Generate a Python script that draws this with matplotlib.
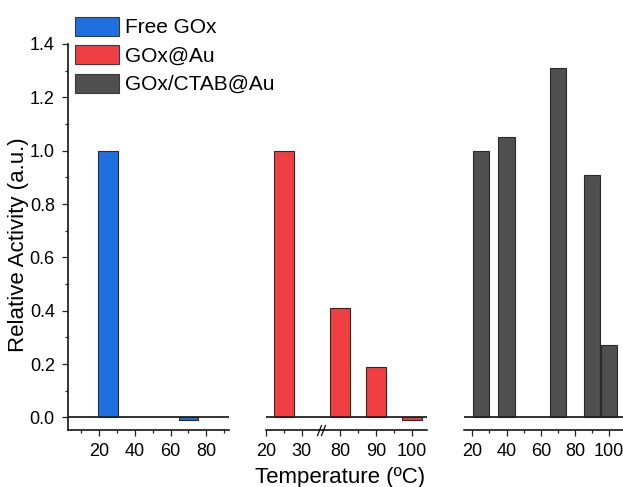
import numpy as np
import matplotlib
matplotlib.use('Agg')
import matplotlib.pyplot as plt
from matplotlib.patches import Patch
from matplotlib.ticker import FixedLocator, MultipleLocator
import matplotlib.transforms as mtransforms

# ---- data ----
free_temps = [25, 70]
free_vals = [1.0, -0.01]
au_temps = [25, 80, 90, 100]
au_vals = [1.0, 0.41, 0.19, -0.01]
ctab_temps = [25, 40, 70, 90, 100]
ctab_vals = [1.0, 1.05, 1.31, 0.91, 0.27]
series_labels = ['Free GOx', 'GOx@Au', 'GOx/CTAB@Au']
colors = ['#1f6fe0', '#ef3f42', '#4f4f4f']
y_ticks = [0.0, 0.2, 0.4, 0.6, 0.8, 1.0, 1.2, 1.4]
p1_ticks = [20, 40, 60, 80]
p1_minor = [10, 30, 50, 70, 90]
p2_ticks = [20, 30, 80, 90, 100]
p2_minor = [25, 85, 95]
p3_ticks = [20, 40, 60, 80, 100]
p3_minor = [30, 50, 70, 90]

plt.rcParams['font.family'] = ['Liberation Sans Narrow', 'Liberation Sans', 'DejaVu Sans']

W, H = 623, 487
fig = plt.figure(figsize=(W / 100, H / 100), dpi=100)

def rect(x0, x1, y0=44, y1=430):
    return [x0 / W, 1 - y1 / H, (x1 - x0) / W, (y1 - y0) / H]

ax1 = fig.add_axes(rect(67.7, 229))
ax2 = fig.add_axes(rect(266, 427))
ax3 = fig.add_axes(rect(464, 623))

GAP = 0.7
def fwd(x):
    x = np.asarray(x, float)
    return np.where(x <= 35, x, np.where(x >= 75, x - 40 + GAP, 35 + (x - 35) * GAP / 40))

def inv(y):
    y = np.asarray(y, float)
    return np.where(y <= 35, y, np.where(y >= 35 + GAP, y + 40 - GAP, 35 + (y - 35) * 40 / GAP))

ax2.set_xscale('function', functions=(fwd, inv))

edge = '#2a2a2a'
ax1.bar(free_temps, free_vals, width=11.2, color=colors[0], edgecolor=edge, linewidth=0.8)
ax2.bar(au_temps, au_vals, width=5.7, color=colors[1], edgecolor=edge, linewidth=0.8)
ax3.bar(ctab_temps, ctab_vals, width=9.6, color=colors[2], edgecolor=edge, linewidth=0.8)

ax1.set_xlim(2.3, 92.7)
ax2.set_xlim(20, 104.2)
ax3.set_xlim(15.1, 108.1)

for ax, maj, mnr in [(ax1, p1_ticks, p1_minor), (ax2, p2_ticks, p2_minor), (ax3, p3_ticks, p3_minor)]:
    ax.set_ylim(-0.047, 1.4)
    ax.axhline(0, color='#222222', lw=1.3, zorder=3)
    ax.xaxis.set_major_locator(FixedLocator(maj))
    ax.xaxis.set_minor_locator(FixedLocator(mnr))
    ax.set_xticklabels([str(t) for t in maj])
    ax.spines['top'].set_visible(False)
    ax.spines['right'].set_visible(False)
    ax.spines['bottom'].set_linewidth(1.1)
    ax.spines['left'].set_linewidth(1.1)
    ax.tick_params(axis='both', which='major', direction='out', length=4.3, width=0.9,
                   labelsize=13, pad=5, color='#222222')
    ax.tick_params(axis='both', which='minor', direction='out', length=2.3, width=0.9,
                   color='#222222')

ax1.yaxis.set_major_locator(FixedLocator(y_ticks))
ax1.yaxis.set_minor_locator(MultipleLocator(0.1))
ax1.set_yticklabels([f'{v:.1f}' for v in y_ticks])

for ax in (ax2, ax3):
    ax.spines['left'].set_visible(False)
    ax.tick_params(axis='y', which='both', left=False, labelleft=False)

# break marks on panel 2 axis
trans = ax2.get_xaxis_transform()
for dx in (-2.0, 2.0):
    off = mtransforms.ScaledTranslation(dx / 100, 0, fig.dpi_scale_trans)
    ax2.plot([55], [0], transform=trans + off, marker=[(-0.4, -1), (0.4, 1)], markersize=8,
             markeredgewidth=1.0, color='#222222', linestyle='none', clip_on=False)

fig.text(340 / W, 1 - 478 / H, 'Temperature (ºC)', fontsize=16, ha='center', va='center')
fig.text(19 / W, 1 - 245 / H, 'Relative Activity (a.u.)', fontsize=16, rotation=90,
         ha='center', va='center', family=['Liberation Sans', 'DejaVu Sans'])

handles = [Patch(facecolor=c, edgecolor='#3a3a3a', linewidth=0.8) for c in colors]
fig.legend(handles, series_labels, loc='upper left', bbox_to_anchor=(75 / W, 1 - 16.7 / H),
           frameon=False, borderpad=0, borderaxespad=0, handlelength=2.1, handleheight=1.04,
           labelspacing=0.37, handletextpad=0.28, fontsize=15)

fig.savefig('out.png', dpi=100)
